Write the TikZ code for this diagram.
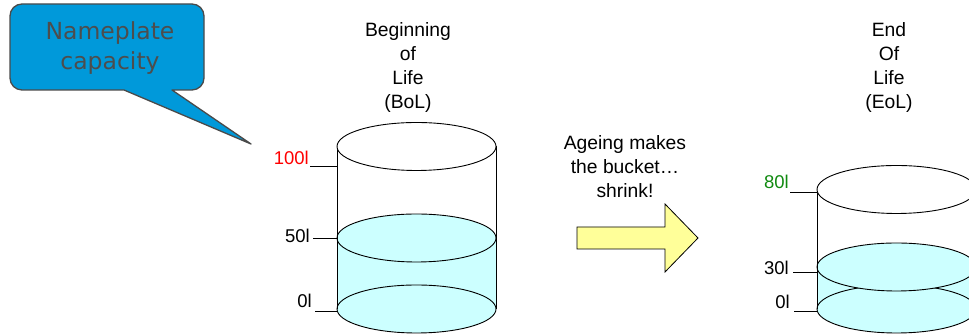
\documentclass[tikz,border=0pt]{standalone}
\usepackage{fontspec}
\setmainfont{Liberation Sans}
\newfontfamily\calloutfont{DejaVu Sans}
\definecolor{water}{HTML}{CCFFFF}
\definecolor{arrowfill}{HTML}{FFFF99}
\definecolor{calloutblue}{HTML}{0099DA}
\definecolor{calloutedge}{HTML}{4A4A4A}
\definecolor{callouttext}{HTML}{4D4D4D}
\definecolor{eolgreen}{HTML}{108A10}
\tikzset{
  cyl/.style={draw=black, line width=0.9pt},
  tick/.style={draw=black, line width=0.9pt},
  lvl/.style={inner sep=0pt, anchor=base east, font=\fontsize{18.5}{22}\selectfont},
  title/.style={inner sep=0pt, anchor=north, align=center, font=\fontsize{19.3}{24}\selectfont},
  callout/.style={fill=calloutblue, draw=calloutedge, line width=1.3pt, line join=round},
  blockarrow/.style={fill=arrowfill, draw=black, line width=0.8pt, line join=miter}
}
\begin{document}
\begin{tikzpicture}[x=1pt,y=1pt]
\useasboundingbox (0,0) rectangle (969,336);
\begin{scope}
\clip (0,0) rectangle (969,336);

% ---------- left cylinder (BoL) ----------
\fill[water] (337,98) -- (337,27) arc[start angle=180, end angle=360, x radius=79.5, y radius=24] -- (496,98) -- cycle;
\draw[cyl] (416.5,27) ellipse[x radius=79.5, y radius=24];
\draw[cyl, fill=water] (416.5,98) ellipse[x radius=79.5, y radius=24];
\draw[cyl] (337,189.5) -- (337,27) (496,189.5) -- (496,27);
\draw[cyl, fill=white] (416.5,189.5) ellipse[x radius=79.5, y radius=24];

% ---------- right cylinder (EoL) ----------
\fill[water] (817,69) -- (817,27) arc[start angle=180, end angle=360, x radius=79.5, y radius=24] -- (976,69) -- cycle;
\draw[cyl] (896.5,27) ellipse[x radius=79.5, y radius=24];
\draw[cyl, fill=water] (896.5,69) ellipse[x radius=79.5, y radius=24];
\draw[cyl] (817,146.5) -- (817,27) (976,146.5) -- (976,27);
\draw[cyl, fill=white] (896.5,146.5) ellipse[x radius=79.5, y radius=24];
\end{scope}

% ---------- level labels and ticks ----------
\node[lvl, text=red] (l100) at (309,171) {100l};
\coordinate (t100a) at (310,170);
\coordinate (t100b) at (337,170);
\draw[tick] (t100a) -- (t100b);

\node[lvl] (l50) at (310,93) {50l};
\coordinate (t50a) at (313,98);
\coordinate (t50b) at (337,98);
\draw[tick] (t50a) -- (t50b);

\node[lvl] (l0a) at (312,28) {0l};
\coordinate (t0aa) at (315,25);
\coordinate (t0ab) at (337,25);
\draw[tick] (t0aa) -- (t0ab);

\node[lvl, text=eolgreen] (l80) at (789,147) {80l};
\coordinate (t80a) at (790,144);
\coordinate (t80b) at (817,144);
\draw[tick] (t80a) -- (t80b);

\node[lvl] (l30) at (789,61) {30l};
\coordinate (t30a) at (793,64);
\coordinate (t30b) at (817,64);
\draw[tick] (t30a) -- (t30b);

\node[lvl] (l0b) at (790,27) {0l};
\coordinate (t0ba) at (794,25);
\coordinate (t0bb) at (817,25);
\draw[tick] (t0ba) -- (t0bb);

% ---------- titles ----------
\node[title] (bol) at (408,314) {Beginning\\of\\Life\\(BoL)};
\node[title] (eol) at (889,314) {End\\Of\\Life\\(EoL)};

% ---------- arrow ----------
\node[title] (ageing) at (625,201) {Ageing makes\\the bucket…\\shrink!};
\draw[blockarrow] (577,109) -- (665,109) -- (665,132) -- (698,98) -- (665,64) -- (665,87) -- (577,87) -- cycle;

% ---------- callout ----------
\draw[callout] (124,246) -- (251,192) -- (172,246) -- (192,246)
  arc[start angle=270, end angle=360, radius=12] -- (204,320)
  arc[start angle=0, end angle=90, radius=12] -- (22,332)
  arc[start angle=90, end angle=180, radius=12] -- (10,258)
  arc[start angle=180, end angle=270, radius=12] -- cycle;
\node[inner sep=0pt, align=center, text=callouttext, font=\calloutfont\fontsize{23.5}{30}\selectfont] (plate) at (110,288) {Nameplate\\capacity};
\end{tikzpicture}
\end{document}
